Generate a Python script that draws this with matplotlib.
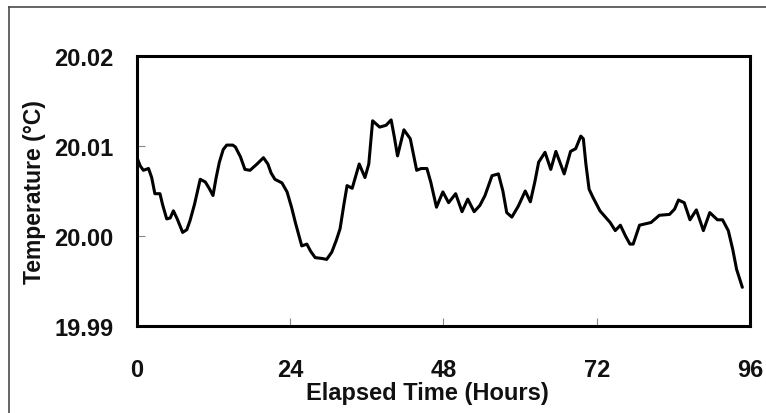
import matplotlib.pyplot as plt
from matplotlib.lines import Line2D

# Dane
hours = [0.0, 0.5, 1.0, 1.8, 2.3, 2.8, 3.6, 4.0, 4.65, 5.2, 5.7, 6.3, 7.15, 7.8,
         8.3, 9.0, 9.9, 10.7, 11.3, 11.9, 12.4, 12.9, 13.5, 14.05, 15.0, 15.4,
         16.2, 16.9, 17.7, 18.8, 19.8, 20.5, 21.0, 21.6, 22.7, 23.5, 24.2, 24.8,
         25.8, 26.6, 27.2, 27.9, 29.0, 29.7, 30.5, 31.2, 31.8, 32.4, 32.9, 33.7,
         34.8, 35.7, 36.3, 36.9, 38.0, 39.0, 39.8, 40.3, 40.8, 41.8, 42.8, 43.8,
         44.5, 45.4, 46.0, 46.9, 47.9, 48.8, 49.9, 50.9, 51.8, 52.8, 53.7, 54.5,
         55.6, 56.6, 57.3, 57.9, 58.7, 59.7, 60.8, 61.6, 62.3, 62.9, 63.9, 64.8,
         65.6, 66.9, 67.9, 68.7, 69.5, 69.9, 70.3, 70.8, 71.4, 72.5, 74.1, 74.9,
         75.7, 76.5, 77.2, 77.7, 78.7, 80.5, 81.8, 83.4, 84.2, 84.8, 85.7, 86.6,
         87.6, 88.7, 89.7, 90.9, 91.7, 92.6, 93.3, 93.9, 94.8]
temps = [20.0087, 20.0078, 20.0073, 20.0075, 20.0065, 20.0047, 20.0047, 20.0035,
         20.0019, 20.0020, 20.0028, 20.0019, 20.0004, 20.0007, 20.0017, 20.0035,
         20.0063, 20.0060, 20.0053, 20.0045, 20.0065, 20.0082, 20.0096, 20.0101,
         20.0101, 20.0099, 20.0088, 20.0074, 20.0073, 20.0080, 20.0087, 20.0080,
         20.0070, 20.0063, 20.0059, 20.0049, 20.0032, 20.0015, 19.9989, 19.9991,
         19.9983, 19.9976, 19.9975, 19.9974, 19.9982, 19.9995, 20.0008, 20.0035,
         20.0056, 20.0053, 20.0080, 20.0065, 20.0080, 20.0128, 20.0121, 20.0123,
         20.0129, 20.0110, 20.0089, 20.0118, 20.0108, 20.0073, 20.0075, 20.0075,
         20.0060, 20.0032, 20.0049, 20.0037, 20.0047, 20.0027, 20.0041, 20.0027,
         20.0034, 20.0045, 20.0067, 20.0069, 20.0050, 20.0026, 20.0021, 20.0033,
         20.0050, 20.0038, 20.0060, 20.0082, 20.0093, 20.0074, 20.0094, 20.0069,
         20.0094, 20.0097, 20.0111, 20.0108, 20.0080, 20.0052, 20.0043, 20.0028,
         20.0015, 20.0006, 20.0012, 20.0000, 19.9991, 19.9991, 20.0012, 20.0015,
         20.0023, 20.0024, 20.0030, 20.0040, 20.0037, 20.0018, 20.0029, 20.0006,
         20.0026, 20.0018, 20.0018, 20.0006, 19.9985, 19.9963, 19.9943]

x_ticks = [0, 24, 48, 72, 96]
y_ticks = [19.99, 20.00, 20.01, 20.02]

plt.rcParams['font.family'] = ['Liberation Sans', 'DejaVu Sans']
plt.rcParams['font.weight'] = 'bold'

fig = plt.figure(figsize=(7.66, 4.14), dpi=100)
ax = fig.add_axes([137 / 766, 1 - 327 / 414, 613 / 766, 270 / 414])

ax.plot(hours, temps, color='black', lw=2.2, solid_joinstyle='round',
        solid_capstyle='round')

ax.set_xlim(0, 96)
ax.set_ylim(19.99, 20.02)
ax.set_xticks(x_ticks)
ax.set_yticks(y_ticks)
ax.set_yticklabels(['%.2f' % v for v in y_ticks])
ax.tick_params(direction='in', length=6, width=0.8, color='#888888',
               labelsize=17, labelcolor='#111111')
ax.tick_params(axis='x', pad=23)
ax.tick_params(axis='y', pad=17)

for s in ax.spines.values():
    s.set_linewidth(2.2)
    s.set_color('black')

ax.set_xlabel('Elapsed Time (Hours)', fontsize=17, fontweight='bold',
              color='#111111', labelpad=0)
ax.xaxis.set_label_coords(0.474, -0.202)
ax.set_ylabel('Temperature (°C)', fontsize=16.5, fontweight='bold',
              color='#111111', labelpad=6)

# Ramka wokół obrazka
fig.add_artist(Line2D([8.5 / 766, 8.5 / 766], [0, 1 - 7.5 / 414],
                      transform=fig.transFigure, color='#4a4a4a', lw=1.2))
fig.add_artist(Line2D([8.5 / 766, 1], [1 - 7.5 / 414, 1 - 7.5 / 414],
                      transform=fig.transFigure, color='#4a4a4a', lw=1.2))

fig.savefig('out.png', dpi=100)
